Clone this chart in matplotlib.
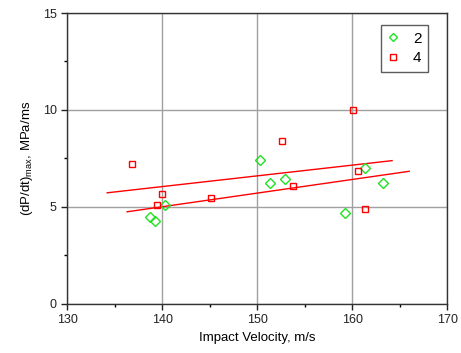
import numpy as np
import matplotlib.pyplot as plt
from matplotlib.ticker import MultipleLocator

plt.rcParams["font.family"] = ["Liberation Sans", "DejaVu Sans"]

# series "2" (green diamonds)
vel_2 = [138.7, 139.2, 140.3, 150.3, 151.3, 152.9, 159.2, 161.4, 163.2]
dpdt_2 = [4.48, 4.26, 5.09, 7.42, 6.24, 6.43, 4.66, 7.02, 6.24]

# series "4" (red squares)
vel_4 = [136.8, 139.4, 140.0, 145.1, 152.6, 153.8, 160.1, 160.6, 161.4]
dpdt_4 = [7.21, 5.07, 5.66, 5.45, 8.38, 6.07, 9.97, 6.83, 4.88]

# fitted trend lines (end points)
fit_upper_x = [134.2, 164.2]
fit_upper_y = [5.72, 7.38]
fit_lower_x = [136.3, 166.0]
fit_lower_y = [4.74, 6.83]

fig = plt.figure(figsize=(4.61, 3.53), dpi=100)
ax = fig.add_axes([0.146, 0.14, 0.824, 0.823])

ax.grid(True, color="#a0a0a0", linewidth=1.0)
ax.set_axisbelow(True)

ax.plot(fit_upper_x, fit_upper_y, color="red", linewidth=1.0)
ax.plot(fit_lower_x, fit_lower_y, color="red", linewidth=1.0)

ax.plot(vel_2, dpdt_2, linestyle="none", marker="D", markersize=5,
        markerfacecolor="none", markeredgecolor="#22e022", markeredgewidth=1.0,
        label="2")
ax.plot(vel_4, dpdt_4, linestyle="none", marker="s", markersize=5,
        markerfacecolor="none", markeredgecolor="red", markeredgewidth=1.0,
        label="4")

ax.set_xlim(130, 170)
ax.set_ylim(0, 15)
ax.xaxis.set_major_locator(MultipleLocator(10))
ax.xaxis.set_minor_locator(MultipleLocator(5))
ax.yaxis.set_major_locator(MultipleLocator(5))
ax.yaxis.set_minor_locator(MultipleLocator(2.5))
ax.tick_params(which="major", direction="out", length=4, width=1, labelsize=9,
               colors="#222222")
ax.tick_params(which="minor", direction="out", length=2, width=1)
for sp in ax.spines.values():
    sp.set_color("#333333")
    sp.set_linewidth(1.0)

ax.set_xlabel("Impact Velocity, m/s", fontsize=9.5, labelpad=4)
ax.set_ylabel(r"(dP/dt)$_\mathregular{max}$, MPa/ms", fontsize=9.5, labelpad=6)

leg = ax.legend(loc="upper right", bbox_to_anchor=(0.95, 0.96), borderaxespad=0,
                fontsize=11, frameon=True, fancybox=False, edgecolor="#333333",
                handlelength=0.6, handletextpad=1.0, borderpad=0.45,
                labelspacing=0.35, markerscale=0.9)
leg.get_frame().set_linewidth(1.0)

fig.savefig("out.png", dpi=100)
